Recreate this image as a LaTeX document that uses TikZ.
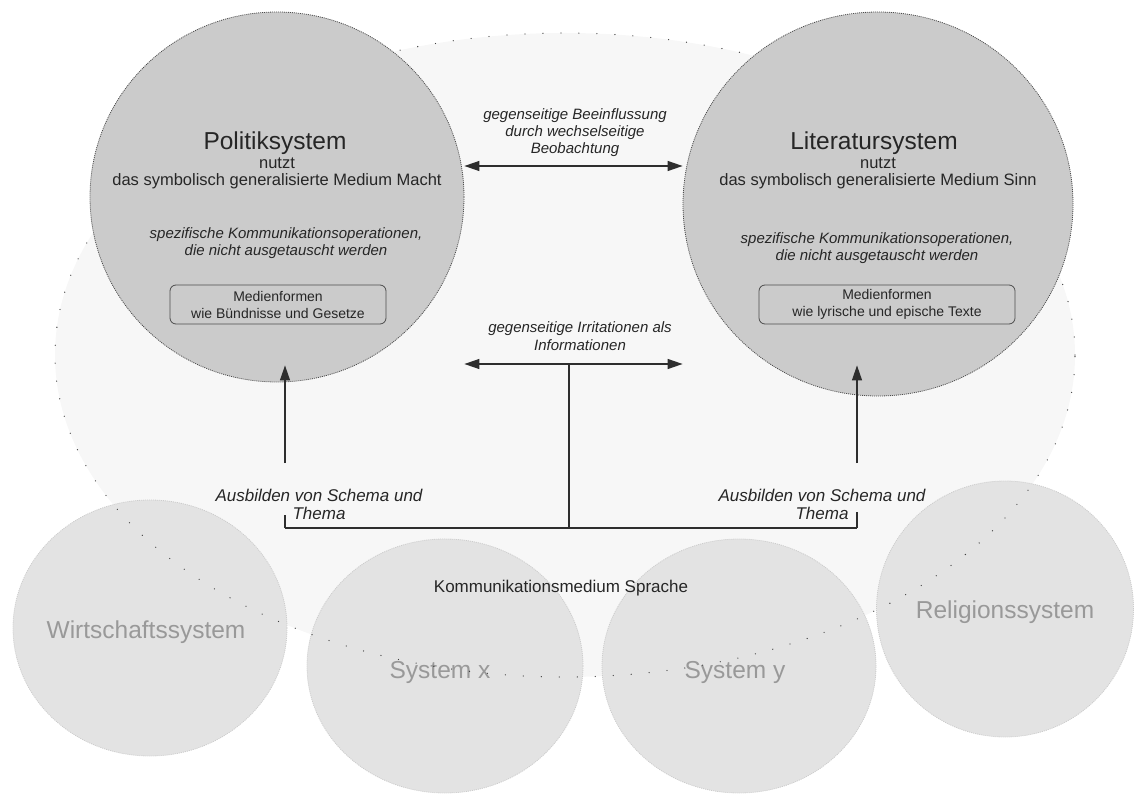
\documentclass[tikz,border=0pt]{standalone}
\usepackage{fontspec}
\setmainfont{Liberation Sans}
\usetikzlibrary{shapes.geometric,arrows.meta}

\definecolor{umweltgrau}{HTML}{F7F7F7}
\definecolor{kreisgrau}{HTML}{CBCBCB}
\definecolor{blassgrau}{HTML}{E3E3E3}
\definecolor{schriftgrau}{HTML}{999999}
\definecolor{strichgrau}{HTML}{2E2E2E}

\newcommand\titelgroesse{\fontsize{24.5}{28}\selectfont}

\tikzset{
  spitze/.tip={Triangle[length=15pt,width=10pt]},
  hauptkreis/.style={ellipse,inner sep=0pt,fill=kreisgrau,draw=black!70,line width=.8pt,dash pattern=on 1pt off 1pt},
  nebenkreis/.style={ellipse,inner sep=0pt,fill=blassgrau,draw=black!20,line width=.8pt,dash pattern=on 1pt off 1pt},
  umweltrand/.style={draw=black!75,line width=1.3pt,line cap=round,dash pattern=on 0pt off 18pt},
  titel/.style={font=\titelgroesse,text=black!85,inner sep=0pt},
  nebentext/.style={font=\titelgroesse,text=schriftgrau,inner sep=0pt},
  fliess/.style={font=\fontsize{16.5}{17}\selectfont,align=center,inner sep=0pt,text=black!85},
  kursiv/.style={font=\fontsize{15}{17}\selectfont\itshape,align=center,inner sep=0pt,text=black!85},
  schema/.style={font=\fontsize{17}{18}\selectfont\itshape,align=center,inner sep=0pt,text=black!85},
  kasten/.style={draw=black!70,line width=.8pt,rounded corners=6pt,font=\fontsize{14}{17}\selectfont,align=center,inner sep=0pt,text=black!85},
  linie/.style={draw=strichgrau,line width=1.2pt},
  pfeil/.style={linie,-spitze},
  doppelpfeil/.style={linie,spitze-spitze}
}

\begin{document}
\begin{tikzpicture}[x=1pt,y=-1pt]
\useasboundingbox (0,0) rectangle (1134,794);

% Umwelt
\node[ellipse,inner sep=0pt,fill=umweltgrau,minimum width=1020pt,minimum height=644pt] (umwelt) at (565,355) {};

% weitere Systeme
\node[nebenkreis,minimum width=274pt,minimum height=256pt] (wirtschaft) at (150,628) {};
\node[nebenkreis,minimum width=276pt,minimum height=254pt] (systemx) at (445,666) {};
\node[nebenkreis,minimum width=274pt,minimum height=254pt] (systemy) at (739,666) {};
\node[nebenkreis,minimum width=257pt,minimum height=256pt] (religion) at (1005,609) {};
\node[nebentext] (wirtschafttext) at (146,632) {Wirtschaftssystem};
\node[nebentext] (systemxtext) at (440,672) {System x};
\node[nebentext] (systemytext) at (735,672) {System y};
\node[nebentext] (religiontext) at (1005,612) {Religionssystem};

\draw[umweltrand] (umwelt.center) ellipse [x radius=510pt,y radius=322pt];

% Politik
\node[hauptkreis,minimum width=374pt,minimum height=370pt] (politik) at (277,197) {};
\node[titel] (politiktitel) at (275,143) {Politiksystem};
\node[fliess] (politikmedium) at (277,173.5) {nutzt\\das symbolisch generalisierte Medium Macht};
\node[kursiv] (politikop) at (286,243.5) {spezifische Kommunikationsoperationen,\\die nicht ausgetauscht werden};
\node[kasten,minimum width=216pt,minimum height=39pt] (politikformen) at (278,304.5) {Medienformen\\wie Bündnisse und Gesetze};

% Literatur
\node[hauptkreis,minimum width=390pt,minimum height=384pt] (literatur) at (878,204) {};
\node[titel] (literaturtitel) at (874,143) {Literatursystem};
\node[fliess] (literaturmedium) at (878,173.5) {nutzt\\das symbolisch generalisierte Medium Sinn};
\node[kursiv] (literaturop) at (877,248.5) {spezifische Kommunikationsoperationen,\\die nicht ausgetauscht werden};
\node[kasten,minimum width=256pt,minimum height=39pt] (literaturformen) at (887,304.5) {Medienformen\\wie lyrische und epische Texte};

% Kopplung
\node[kursiv] (beobachtung) at (575,133) {gegenseitige Beeinflussung\\durch wechselseitige\\Beobachtung};
\node[kursiv,font=\fontsize{15}{18}\selectfont\itshape] (irritation) at (580,336) {gegenseitige Irritationen als\\Informationen};
\coordinate (oben) at (575,166);
\coordinate (unten) at (569,364);
\draw[doppelpfeil] (politik.east |- oben) -- (literatur.west |- oben);
\draw[doppelpfeil] (politik.east |- unten) -- (literatur.west |- unten);

% Sprache
\node[schema] (schemaL) at (319,504) {Ausbilden von Schema und\\Thema};
\node[schema] (schemaR) at (822,504) {Ausbilden von Schema und\\Thema};
\node[fliess,font=\fontsize{17}{18}\selectfont] (sprache) at (561,588) {Kommunikationsmedium Sprache};
\coordinate (eckeL) at (285,528);
\coordinate (eckeR) at (857,528);
\coordinate (fussL) at (285,463);
\coordinate (fussR) at (857,463);
\draw[linie] (eckeL) -- (eckeR);
\draw[linie] (unten) -- (unten |- eckeL);
\draw[linie] (eckeL) -- ++(0,-13);
\draw[linie] (eckeR) -- ++(0,-16);
\draw[pfeil,shorten >=-17pt] (fussL) -- (fussL |- politik.south);
\draw[pfeil,shorten >=-31pt] (fussR) -- (fussR |- literatur.south);
\end{tikzpicture}
\end{document}
